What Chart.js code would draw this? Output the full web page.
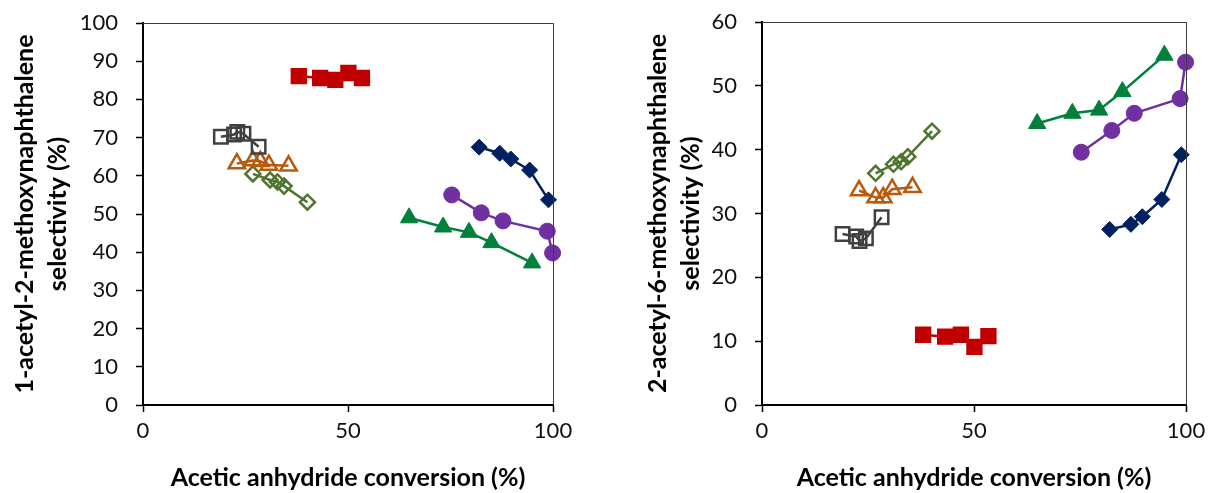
<!DOCTYPE html>
<html>
<head>
<meta charset="utf-8">
<script src="https://cdn.jsdelivr.net/npm/chart.js@4.4.1/dist/chart.umd.min.js"></script>
<style>
html,body{margin:0;padding:0;background:#fff;width:1211px;height:493px;overflow:hidden;}
.box{position:absolute;top:0;height:493px;}
</style>
</head>
<body>
<div class="box" style="left:0;width:605px;"><canvas id="c1" width="605" height="493"></canvas></div>
<div class="box" style="left:605px;width:606px;"><canvas id="c2" width="606" height="493"></canvas></div>
<script>
// Acetic anhydride conversion (%) per catalyst series
const xRed    = [38.0, 43.2, 46.9, 50.1, 53.4];
const xGray   = [19.0, 22.2, 23.0, 24.5, 28.2];
const xOrange = [22.9, 26.8, 28.6, 30.7, 35.5];
const xOlive  = [26.8, 31.0, 32.8, 34.4, 40.1];
const xNavy   = [82.0, 87.0, 89.7, 94.3, 98.9];
const xPurple = [75.3, 82.5, 87.8, 98.6, 99.9];
const xGreen  = [64.9, 73.2, 79.5, 85.0, 94.9];

// 1-acetyl-2-methoxynaphthalene selectivity (%)
const selA_Red    = [86.1, 85.6, 85.1, 86.9, 85.6];
const selA_Gray   = [70.2, 70.8, 71.5, 71.0, 67.6];
const selA_Orange = [63.2, 64.0, 63.8, 62.8, 62.6];
const selA_Olive  = [60.5, 58.9, 58.4, 57.3, 53.1];
const selA_Navy   = [67.5, 65.9, 64.4, 61.5, 53.7];
const selA_Purple = [55.0, 50.3, 48.2, 45.5, 39.8];
const selA_Green  = [49.0, 46.6, 45.2, 42.5, 37.2];

// 2-acetyl-6-methoxynaphthalene selectivity (%)
const selB_Red    = [11.0, 10.7, 11.0, 9.1, 10.8];
const selB_Gray   = [26.8, 26.4, 25.7, 26.1, 29.4];
const selB_Orange = [33.6, 32.5, 32.5, 33.8, 34.1];
const selB_Olive  = [36.3, 37.7, 38.1, 38.9, 42.9];
const selB_Navy   = [27.5, 28.3, 29.5, 32.2, 39.2];
const selB_Purple = [39.6, 43.0, 45.7, 48.0, 53.7];
const selB_Green  = [44.1, 45.7, 46.2, 49.1, 54.8];

const xTicks = [0, 50, 100];
const yTicksA = [0,10,20,30,40,50,60,70,80,90,100];
const yTicksB = [0,10,20,30,40,50,60];

const styles = {
  red:    {color:'#C00000', style:'rect',     radius:10.5, fill:true,  bw:1.5},
  gray:   {color:'#404040', style:'rect',     radius:9.5,  fill:false, bw:2.5},
  orange: {color:'#B85A0F', style:'triangle', radius:9.5,  fill:false, bw:2.5},
  olive:  {color:'#507530', style:'rectRot',  radius:7.5,  fill:false, bw:2.5},
  navy:   {color:'#002060', style:'rectRot',  radius:8,    fill:true,  bw:1},
  purple: {color:'#7030A0', style:'circle',   radius:8,    fill:true,  bw:1},
  green:  {color:'#00803A', style:'triangle', radius:10,   fill:true,  bw:1}
};

function pts(xs, ys){ return xs.map((x,i)=>({x:x, y:ys[i]})); }
function ds(key, xs, ys){
  const s = styles[key];
  return {
    data: pts(xs, ys), showLine:true, clip:false,
    borderColor:s.color, borderWidth:2.5,
    pointStyle:s.style, pointRadius:s.radius, pointHoverRadius:s.radius,
    pointBackgroundColor: s.fill ? s.color : 'rgba(0,0,0,0)',
    pointBorderColor:s.color, pointBorderWidth:s.bw
  };
}

const frame = {
  id:'frame',
  afterDraw(chart){
    const a = chart.chartArea, ctx = chart.ctx;
    ctx.save();
    ctx.strokeStyle = '#3a3a3a'; ctx.lineWidth = 1;
    ctx.beginPath();
    ctx.moveTo(a.left, a.top + 0.5); ctx.lineTo(a.right + 0.5, a.top + 0.5); ctx.lineTo(a.right + 0.5, a.bottom);
    ctx.stroke();
    ctx.restore();
  }
};

const tickFont = {family:'Lato', size:22};

function makeChart(id, datasets, yTicks, yMax, yTitle, yWidth, padRight, padTop, yTitlePad){
  return new Chart(document.getElementById(id), {
    type:'scatter',
    data:{datasets},
    options:{
      responsive:false, animation:false, events:[],
      layout:{padding:{top:padTop, right:padRight, left:0, bottom:0}},
      plugins:{legend:{display:false}, tooltip:{enabled:false}},
      scales:{
        x:{
          type:'linear', min:0, max:100,
          afterBuildTicks(s){ s.ticks = xTicks.map(v=>({value:v})); },
          afterFit(s){ s.height = 88; s.paddingLeft = 0; s.paddingRight = 0; },
          grid:{drawOnChartArea:false, drawTicks:true, tickLength:7, color:'#000', tickWidth:1.5},
          border:{display:true, color:'#000', width:2},
          ticks:{font:tickFont, color:'#111', padding:6, maxRotation:0},
          title:{display:true, text:'Acetic anhydride conversion (%)', font:{family:'Lato', size:25, weight:'bold', lineHeight:1.2}, color:'#000', padding:{top:0, bottom:0}}
        },
        y:{
          type:'linear', min:0, max:yMax,
          afterBuildTicks(s){ s.ticks = yTicks.map(v=>({value:v})); },
          afterFit(s){ s.width = yWidth; s.paddingTop = 0; s.paddingBottom = 0; },
          grid:{drawOnChartArea:false, drawTicks:true, tickLength:7, color:'#000', tickWidth:1.5},
          border:{display:true, color:'#000', width:2},
          ticks:{font:tickFont, color:'#111', padding:18},
          title:{display:true, text:yTitle, font:{family:'Lato', size:25, weight:'bold', lineHeight:1.32}, color:'#000', padding:{top:yTitlePad, bottom:0}}
        }
      }
    },
    plugins:[frame]
  });
}

makeChart('c1', [
  ds('red', xRed, selA_Red),
  ds('gray', xGray, selA_Gray),
  ds('orange', xOrange, selA_Orange),
  ds('olive', xOlive, selA_Olive),
  ds('navy', xNavy, selA_Navy),
  ds('purple', xPurple, selA_Purple),
  ds('green', xGreen, selA_Green)
], yTicksA, 100, ['1-acetyl-2-methoxynaphthalene','selectivity (%)'], 143, 52, 23, 8);

makeChart('c2', [
  ds('red', xRed, selB_Red),
  ds('gray', xGray, selB_Gray),
  ds('orange', xOrange, selB_Orange),
  ds('olive', xOlive, selB_Olive),
  ds('navy', xNavy, selB_Navy),
  ds('purple', xPurple, selB_Purple),
  ds('green', xGreen, selB_Green)
], yTicksB, 60, ['2-acetyl-6-methoxynaphthalene','selectivity (%)'], 157, 25, 22, 36);
</script>
</body>
</html>
